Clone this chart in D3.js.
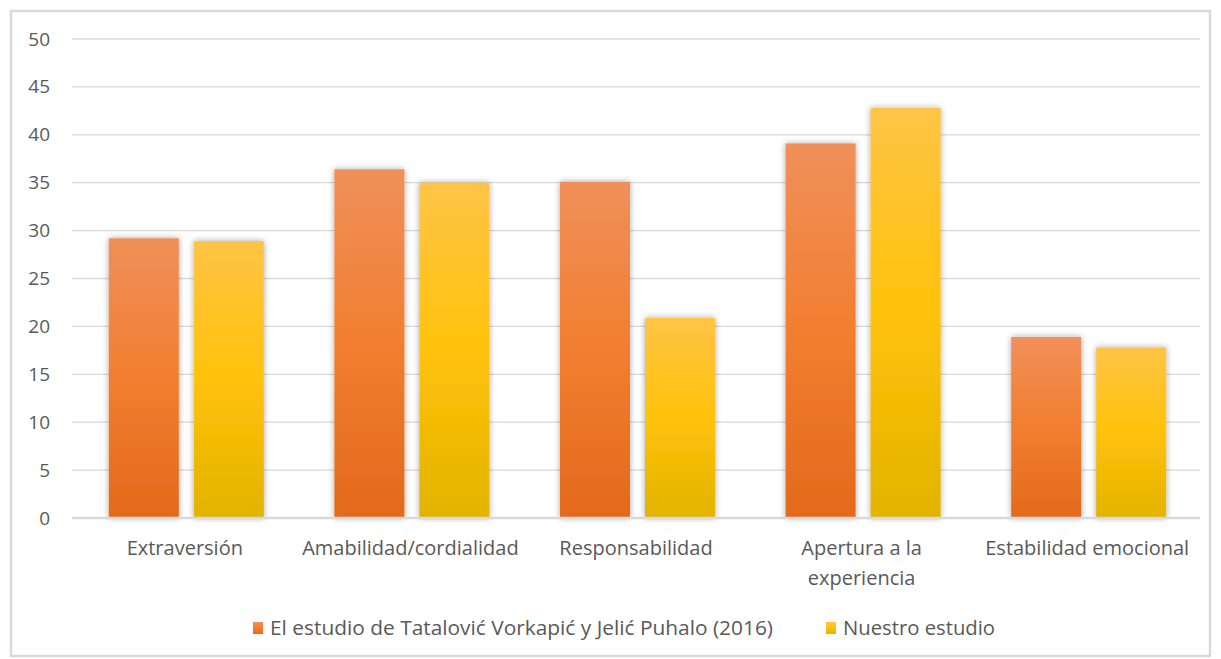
<!DOCTYPE html>
<html>
<head>
<meta charset="utf-8">
<script src="https://cdn.jsdelivr.net/npm/d3@7"></script>
<style>
  html, body { margin: 0; padding: 0; background: #fff; }
  svg { display: block; }
  text { font-family: "Open Sans", "Liberation Sans", sans-serif; fill: #595959; }
</style>
</head>
<body>
<svg id="chart" width="1221" height="659"></svg>
<script>
const categories = ["Extraversión", "Amabilidad/cordialidad", "Responsabilidad", "Apertura a la experiencia", "Estabilidad emocional"];
const seriesNames = ["El estudio de Tatalović Vorkapić y Jelić Puhalo (2016)", "Nuestro estudio"];
const seriesTatalovic = [29.2, 36.4, 35.1, 39.1, 18.9];
const seriesNuestro = [28.9, 35.0, 20.9, 42.8, 17.8];
const yTicks = [0, 5, 10, 15, 20, 25, 30, 35, 40, 45, 50];

const svg = d3.select("#chart");
const W = 1221, H = 659;
const margin = { left: 72, right: 21, top: 39, bottom: 141 };
const plotW = W - margin.left - margin.right;
const plotH = H - margin.top - margin.bottom;

// frame
svg.append("rect").attr("x", 11).attr("y", 11).attr("width", W - 22).attr("height", H - 14)
  .attr("fill", "#fff").attr("stroke", "#d9d9d9").attr("stroke-width", 2.5);

const defs = svg.append("defs");
const g1 = defs.append("linearGradient").attr("id", "gOrange").attr("x1", 0).attr("y1", 0).attr("x2", 0).attr("y2", 1);
g1.append("stop").attr("offset", "0%").attr("stop-color", "#f0905a");
g1.append("stop").attr("offset", "50%").attr("stop-color", "#f27e30");
g1.append("stop").attr("offset", "100%").attr("stop-color", "#e3691b");
const g2 = defs.append("linearGradient").attr("id", "gYellow").attr("x1", 0).attr("y1", 0).attr("x2", 0).attr("y2", 1);
g2.append("stop").attr("offset", "0%").attr("stop-color", "#ffc446");
g2.append("stop").attr("offset", "50%").attr("stop-color", "#ffc20a");
g2.append("stop").attr("offset", "100%").attr("stop-color", "#e2b300");
const f = defs.append("filter").attr("id", "shadow").attr("x", "-20%").attr("y", "-10%").attr("width", "140%").attr("height", "120%");
f.append("feDropShadow").attr("dx", 0).attr("dy", 0).attr("stdDeviation", 3).attr("flood-color", "#000").attr("flood-opacity", 0.35);

const g = svg.append("g").attr("transform", `translate(${margin.left},${margin.top})`);

const x0 = d3.scaleBand().domain(categories).range([0, plotW]).paddingInner(0).paddingOuter(0);
const x1 = d3.scaleBand().domain([0, 1]).range([x0.bandwidth() / 2 - 76, x0.bandwidth() / 2 + 79]).paddingInner(0.1765);
const y = d3.scaleLinear().domain([0, 50]).range([plotH, 0]);

// gridlines
g.append("g").selectAll("line").data(yTicks.filter(d => d > 0)).join("line")
  .attr("x1", 0).attr("x2", plotW).attr("y1", d => y(d)).attr("y2", d => y(d))
  .attr("stroke", "#d9d9d9").attr("stroke-width", 1.3);

// y axis labels
const yAxis = d3.axisLeft(y).tickValues(yTicks).tickSize(0).tickPadding(22);
const ya = g.append("g").call(yAxis);
ya.select(".domain").remove();
ya.selectAll("text").style("font-size", "19px").attr("fill", "#595959").style("font-family", "\"Open Sans\", sans-serif");

const series = [seriesTatalovic, seriesNuestro];
const fills = ["url(#gOrange)", "url(#gYellow)"];
series.forEach((vals, si) => {
  g.append("g").selectAll("rect").data(vals).join("rect")
    .attr("x", (d, i) => x0(categories[i]) + x1(si))
    .attr("width", x1.bandwidth())
    .attr("y", d => y(d))
    .attr("height", d => y(0) - y(d))
    .attr("fill", fills[si])
    .attr("filter", "url(#shadow)");
});

// baseline
g.append("line").attr("x1", 0).attr("x2", plotW).attr("y1", y(0)).attr("y2", y(0))
  .attr("stroke", "#d9d9d9").attr("stroke-width", 2.5);

// x labels
const xl = g.append("g").selectAll("text").data(categories).join("text")
  .attr("text-anchor", "middle")
  .attr("x", d => x0(d) + x0.bandwidth() / 2)
  .attr("y", plotH + 37)
  .style("font-size", "20px");
xl.each(function(d) {
  const t = d3.select(this);
  const lines = d === "Apertura a la experiencia" ? ["Apertura a la", "experiencia"] : [d];
  lines.forEach((ln, i) => {
    t.append("tspan").attr("x", x0(d) + x0.bandwidth() / 2).attr("dy", i === 0 ? 0 : 30).text(ln);
  });
});

// legend
const legend = svg.append("g").attr("transform", "translate(253,628)");
const legX = [0, 573];
const legLen = [503, 152];
seriesNames.forEach((name, i) => {
  const lg = legend.append("g").attr("transform", `translate(${legX[i]},0)`);
  lg.append("rect").attr("x", 0).attr("y", -6).attr("width", 10).attr("height", 12).attr("fill", fills[i]);
  lg.append("text").attr("x", 17).attr("y", 7).style("font-size", "20px")
    .attr("textLength", legLen[i]).attr("lengthAdjust", "spacingAndGlyphs").text(name);
});
</script>
</body>
</html>
